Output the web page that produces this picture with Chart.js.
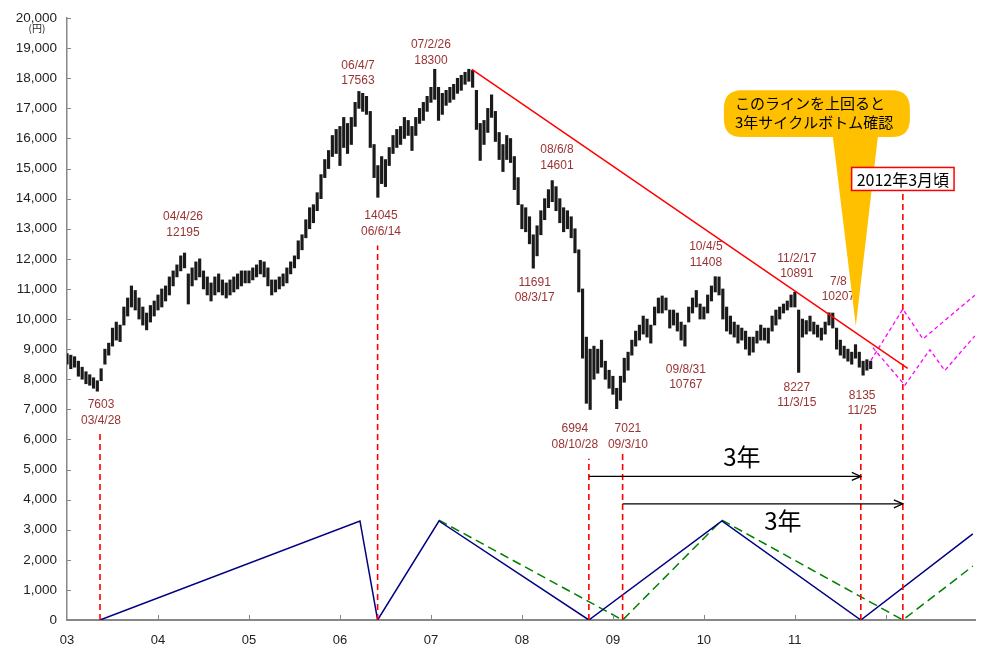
<!DOCTYPE html>
<html>
<head>
<meta charset="utf-8">
<script src="https://cdn.jsdelivr.net/npm/chart.js@4.4.1/dist/chart.umd.min.js"></script>
<style>
  html, body { margin: 0; padding: 0; background: #fff; }
</style>
</head>
<body>
<canvas id="nikkeiChart" width="987" height="649"></canvas>
<script>
// year labels on the x axis
const years = ['03', '04', '05', '06', '07', '08', '09', '10', '11'];

// half-monthly price ranges (yen), 2003/1 .. 2011/12
const lows = [
  8500, 8350, 8400, 8100, 8000, 7850, 7800, 7700, 7603, 7950, 8500, 8800, 9100, 9300, 9250, 9800, 10100, 10400, 10300, 10000, 9800, 9640, 9900, 10100,
  10300, 10400, 10600, 10800, 11100, 11400, 11600, 11700, 10500, 11100, 11300, 11400, 11000, 10800, 10600, 10800, 10900, 10800, 10700, 10800, 10900, 11000, 11100, 11200,
  11200, 11300, 11400, 11500, 11400, 11100, 10800, 10900, 11000, 11100, 11200, 11500, 11700, 12000, 12300, 12700, 13000, 13200, 13600, 14000, 14700, 15000, 15400, 15500,
  15100, 15700, 15500, 15800, 16400, 17000, 16900, 16800, 15700, 14700, 14045, 14500, 14400, 15100, 15500, 15700, 15800, 16000, 16100, 15600, 16100, 16500, 16600, 16900,
  17200, 17300, 16600, 16800, 17100, 17200, 17300, 17500, 17600, 17800, 17900, 17700, 16300, 15270, 15800, 16200, 16700, 15900, 15300, 14900, 15300, 15200, 14300, 13800,
  13000, 12900, 12500, 11691, 12100, 12800, 13300, 13700, 13900, 13600, 13200, 12900, 13000, 12700, 12200, 10900, 8700, 7200, 6994, 8000, 8200, 8400, 8000, 7700,
  7500, 7021, 7300, 7900, 8300, 8800, 9100, 9300, 9500, 9400, 9200, 9800, 10200, 10200, 10300, 9700, 9800, 9600, 9300, 9100, 9900, 10200, 10400, 10000,
  10000, 10200, 10600, 10900, 10800, 10000, 9600, 9500, 9400, 9200, 9300, 9000, 8800, 8900, 9200, 9300, 9300, 9200, 9600, 9800, 10000, 10200, 10300, 10400,
  10400, 8227, 9400, 9500, 9600, 9500, 9400, 9300, 9500, 9800, 9700, 9000, 8800, 8700, 8600, 8500, 8700, 8400, 8135, 8300, 8350
];
const highs = [
  8850, 8800, 8750, 8600, 8400, 8250, 8150, 8050, 7950, 8350, 9000, 9200, 9700, 9900, 9800, 10400, 10700, 11100, 10950, 10700, 10400, 10200, 10450, 10600,
  10800, 11000, 11100, 11400, 11600, 11800, 12100, 12195, 11500, 11700, 11900, 12000, 11600, 11400, 11200, 11400, 11500, 11300, 11200, 11300, 11400, 11500, 11600, 11600,
  11600, 11700, 11800, 11950, 11900, 11700, 11300, 11300, 11400, 11500, 11700, 11900, 12100, 12600, 12800, 13300, 13700, 13800, 14200, 14800, 15300, 15600, 16100, 16300,
  16400, 16700, 16500, 16700, 17200, 17563, 17500, 17400, 16900, 15800, 15100, 15400, 15300, 15700, 16100, 16300, 16400, 16700, 16600, 16400, 16700, 17000, 17200, 17400,
  17700, 18300, 17700, 17500, 17600, 17700, 17800, 18000, 18100, 18200, 18300, 18261, 17600, 16500, 16600, 17000, 17450, 16900, 16200, 15800, 16100, 16000, 15400, 14700,
  13800, 13700, 13400, 12800, 13100, 13600, 14000, 14300, 14601, 14400, 14000, 13700, 13600, 13400, 13000, 12300, 11000, 9400, 9000, 9100, 9000, 9300, 8600, 8300,
  8100, 7700, 8100, 8700, 8900, 9300, 9600, 9800, 10100, 10000, 9800, 10400, 10700, 10767, 10700, 10300, 10300, 10200, 9900, 9800, 10400, 10700, 10950, 10500,
  10400, 10800, 11100, 11408, 11400, 11000, 10400, 10100, 9900, 9800, 9700, 9600, 9400, 9400, 9600, 9800, 9700, 9700, 10100, 10300, 10400, 10500, 10600, 10800,
  10891, 10300, 10000, 9950, 10100, 9900, 9800, 9700, 9900, 10207, 10200, 9700, 9300, 9100, 9000, 8900, 9150, 8900, 8600, 8650, 8600
];

// red resistance line [year, yen]
const trendLine = [[2007.45, 18300], [2012.24, 8360]];
// magenta projected paths
const forecastA = [[2011.835, 8620], [2012.187, 10330], [2012.407, 9340], [2012.978, 10790]];
const forecastB = [[2011.857, 9050], [2012.209, 7800], [2012.484, 8980], [2012.648, 8290], [2012.978, 9440]];
// cycle lines at the bottom
const cycleBlue = [[2003.363, 0], [2006.22, 3290], [2006.414, 0], [2007.088, 3290], [2008.736, 0], [2010.198, 3290], [2011.725, 0], [2012.956, 2860]];
const cycleGreen = [[2007.088, 3320], [2009.107, 0], [2010.198, 3320], [2012.187, 0], [2012.956, 1790]];
// dashed markers at the bottoms [year, top of line]
const bottomMarks = [[2003.363, 6250], [2006.414, 12440], [2008.736, 5360], [2009.107, 5530], [2011.725, 6580], [2012.187, 14250]];
// 3-year arrows [from, to, level]
const arrowSpans = [[2008.736, 2011.725, 4770], [2009.107, 2012.187, 3860]];

// peak / bottom notes [line1, line2, year, yen]
const priceNotes = [
  ['7603', '03/4/28', 2003.374, 7138],
  ['04/4/26', '12195', 2004.275, 13390],
  ['06/4/7', '17563', 2006.198, 18421],
  ['14045', '06/6/14', 2006.451, 13421],
  ['07/2/26', '18300', 2007.0, 19112],
  ['11691', '08/3/17', 2008.14, 11217],
  ['08/6/8', '14601', 2008.385, 15625],
  ['6994', '08/10/28', 2008.582, 6349],
  ['7021', '09/3/10', 2009.165, 6349],
  ['09/8/31', '10767', 2009.802, 8322],
  ['10/4/5', '11408', 2010.022, 12401],
  ['11/2/17', '10891', 2011.022, 12007],
  ['8227', '11/3/15', 2011.022, 7730],
  ['7/8', '10207', 2011.478, 11250],
  ['8135', '11/25', 2011.74, 7467]
];

const periods = lows.map((_, i) => 2003 + i / 24);
const toXY = arr => arr.map(([x, y]) => ({ x, y }));

const latin = '"Liberation Sans", Arial, sans-serif';
const cjk = '"Noto Sans CJK JP", "Liberation Sans", sans-serif';

const lineSet = (data, color, width, dash) => ({
  type: 'line',
  data: toXY(data),
  borderColor: color,
  borderWidth: width,
  borderDash: dash || [],
  pointRadius: 0,
  fill: false,
  tension: 0
});

const datasets = [];
datasets.push(lineSet(trendLine, '#ff0000', 1.5));
datasets.push(lineSet(forecastA, '#ff00ff', 1.3, [4, 3]));
datasets.push(lineSet(forecastB, '#ff00ff', 1.3, [4, 3]));
arrowSpans.forEach(([a, b, v]) => datasets.push(lineSet([[a, v], [b, v]], '#000', 1.2)));
bottomMarks.forEach(([t, top]) => datasets.push(lineSet([[t, 0], [t, top]], '#ff0000', 1.6, [6, 4])));
datasets.push(lineSet(cycleBlue, '#000080', 1.5));
datasets.push(lineSet(cycleGreen, '#008000', 1.5, [9, 5]));
datasets.push({
  type: 'bar',
  data: periods.map((t, i) => ({ x: t, y: [lows[i], highs[i]] })),
  backgroundColor: '#1a1a1a',
  barThickness: 2.5,
  grouped: false
});

const annotations = {
  id: 'annotations',
  afterDatasetsDraw(chart) {
    const ctx = chart.ctx;
    const { x, y } = chart.scales;
    ctx.save();

    // inner tick marks
    ctx.strokeStyle = '#888';
    ctx.lineWidth = 1;
    ctx.beginPath();
    for (let v = 0; v <= 20000; v += 1000) {
      const py = Math.round(y.getPixelForValue(v)) + 0.5;
      ctx.moveTo(x.left, py);
      ctx.lineTo(x.left + 4, py);
    }
    for (let t = 2004; t <= 2012; t++) {
      const px = Math.round(x.getPixelForValue(t)) + 0.5;
      ctx.moveTo(px, y.bottom);
      ctx.lineTo(px, y.bottom - 5);
    }
    ctx.stroke();

    // arrow heads
    ctx.strokeStyle = '#000';
    ctx.lineWidth = 1.3;
    arrowSpans.forEach(([a, b, v]) => {
      const px = x.getPixelForValue(b);
      const py = y.getPixelForValue(v);
      ctx.beginPath();
      ctx.moveTo(px - 9, py - 4);
      ctx.lineTo(px, py);
      ctx.lineTo(px - 9, py + 4);
      ctx.stroke();
    });

    // notes
    ctx.fillStyle = '#993333';
    ctx.font = '12px ' + latin;
    ctx.textAlign = 'center';
    ctx.textBaseline = 'middle';
    priceNotes.forEach(([a, b, t, v]) => {
      const px = x.getPixelForValue(t);
      const py = y.getPixelForValue(v);
      ctx.fillText(a, px, py);
      ctx.fillText(b, px, py + 15.5);
    });

    // 3年 labels
    ctx.fillStyle = '#000';
    ctx.font = '24px ' + cjk;
    ctx.fillText('3年', x.getPixelForValue(2010.418), y.getPixelForValue(5428));
    ctx.fillText('3年', x.getPixelForValue(2010.868), y.getPixelForValue(3290));

    // yellow callout
    const l = x.getPixelForValue(2010.22), r = x.getPixelForValue(2012.264);
    const tp = y.getPixelForValue(17600), bt = y.getPixelForValue(16053);
    const rad = 18;
    ctx.fillStyle = '#ffc000';
    ctx.beginPath();
    ctx.moveTo(l + rad, tp);
    ctx.lineTo(r - rad, tp);
    ctx.quadraticCurveTo(r, tp, r, tp + rad);
    ctx.lineTo(r, bt - rad);
    ctx.quadraticCurveTo(r, bt, r - rad, bt);
    ctx.lineTo(x.getPixelForValue(2011.912), bt);
    ctx.lineTo(x.getPixelForValue(2011.67), y.getPixelForValue(9770));
    ctx.lineTo(x.getPixelForValue(2011.418), bt);
    ctx.lineTo(l + rad, bt);
    ctx.quadraticCurveTo(l, bt, l, bt - rad);
    ctx.lineTo(l, tp + rad);
    ctx.quadraticCurveTo(l, tp, l + rad, tp);
    ctx.closePath();
    ctx.fill();
    ctx.fillStyle = '#000';
    ctx.font = '15px ' + cjk;
    ctx.textAlign = 'left';
    ctx.fillText('このラインを上回ると', l + 11, tp + 13);
    ctx.fillText('3年サイクルボトム確認', l + 11, tp + 32);

    // 2012年3月頃 box
    const bx = x.getPixelForValue(2012.187), by = y.getPixelForValue(14655);
    ctx.font = '16px ' + cjk;
    const bw = ctx.measureText('2012年3月頃').width + 10;
    ctx.fillStyle = '#fff';
    ctx.fillRect(bx - bw / 2, by - 11.5, bw, 23);
    ctx.strokeStyle = '#ff0000';
    ctx.lineWidth = 1.5;
    ctx.strokeRect(bx - bw / 2, by - 11.5, bw, 23);
    ctx.fillStyle = '#000';
    ctx.textAlign = 'center';
    ctx.fillText('2012年3月頃', bx, by + 1);

    // unit
    ctx.font = '10px ' + cjk;
    ctx.fillStyle = '#222';
    ctx.fillText('(円)', 37, 28);

    ctx.restore();
  }
};

new Chart(document.getElementById('nikkeiChart'), {
  type: 'line',
  data: { datasets },
  options: {
    responsive: false,
    animation: false,
    layout: { padding: { top: 12, right: 12, left: 0, bottom: 0 } },
    plugins: { legend: { display: false }, tooltip: { enabled: false } },
    scales: {
      x: {
        type: 'linear',
        min: 2003,
        max: 2012.98,
        offset: false,
        grid: { display: true, drawOnChartArea: false, drawTicks: false },
        border: { color: '#888', width: 2 },
        ticks: {
          stepSize: 1,
          includeBounds: false,
          autoSkip: false,
          maxRotation: 0,
          padding: 13,
          color: '#222',
          font: { size: 13, family: latin },
          callback: v => (Number.isInteger(v) && v < 2012 ? years[v - 2003] : '')
        },
        afterFit: s => { s.height = 29; }
      },
      y: {
        min: 0,
        max: 20000,
        grid: { display: true, drawOnChartArea: false, drawTicks: false },
        border: { color: '#888', width: 1.5 },
        ticks: {
          stepSize: 1000,
          padding: 10,
          color: '#222',
          font: { size: 13.5, family: latin },
          callback: v => v.toLocaleString('en-US')
        },
        afterFit: s => { s.width = 67; }
      }
    }
  },
  plugins: [annotations]
});
</script>
</body>
</html>
